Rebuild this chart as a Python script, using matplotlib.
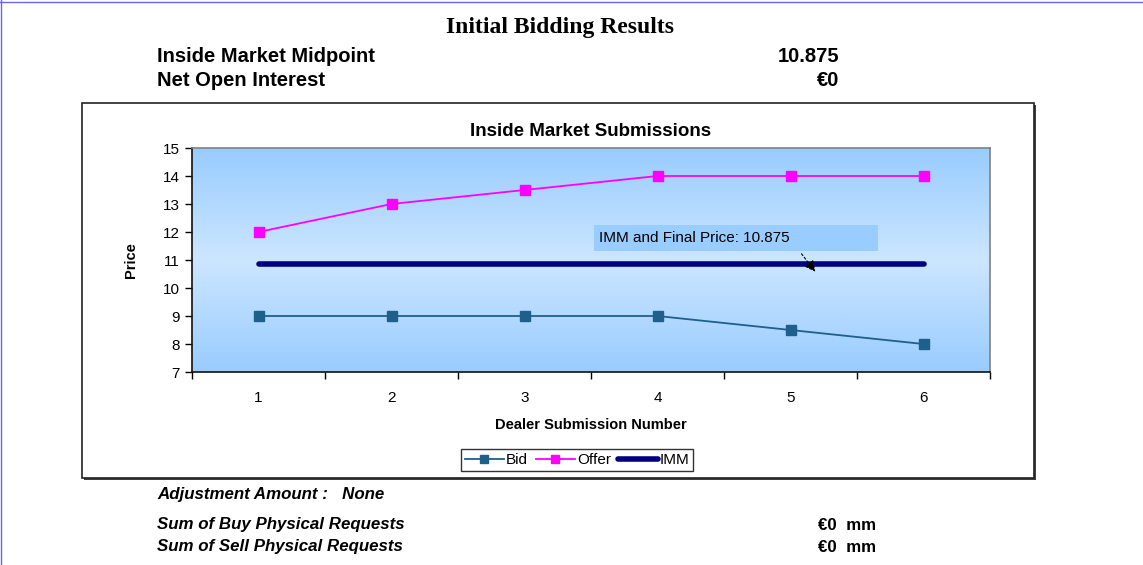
import numpy as np
import matplotlib
matplotlib.use("Agg")
import matplotlib.pyplot as plt
from matplotlib.colors import LinearSegmentedColormap
from matplotlib.patches import Rectangle

# ---- data ----
submissions = [1, 2, 3, 4, 5, 6]
bid = [9, 9, 9, 9, 8.5, 8]
offer = [12, 13, 13.5, 14, 14, 14]
imm = [10.875, 10.875, 10.875, 10.875, 10.875, 10.875]
y_ticks = [7, 8, 9, 10, 11, 12, 13, 14, 15]
midpoint_label = "10.875"
open_interest_label = "€0"

W, H = 1143, 565
fig = plt.figure(figsize=(W / 100, H / 100), dpi=100)
plt.rcParams['font.family'] = ['Liberation Sans', 'DejaVu Sans']

def fx(px):
    return px / W

def fy(py):
    return 1 - py / H

# page border lines (top, left)
fig.add_artist(plt.Line2D([fx(1), fx(1)], [0, 1], color="#6666EE", lw=1))
fig.add_artist(plt.Line2D([0, 1], [fy(1.5), fy(1.5)], color="#6666EE", lw=1))

# header
fig.text(fx(560), fy(27), "Initial Bidding Results", family="Liberation Serif",
         weight="bold", fontsize=17, ha="center", va="center")
fig.text(fx(157), fy(57), "Inside Market Midpoint", weight="bold", fontsize=14.5,
         ha="left", va="center")
fig.text(fx(839), fy(57), midpoint_label, weight="bold", fontsize=14.5,
         ha="right", va="center")
fig.text(fx(157), fy(80), "Net Open Interest", weight="bold", fontsize=14.5,
         ha="left", va="center")
fig.text(fx(839), fy(80), open_interest_label, weight="bold", fontsize=14.5,
         ha="right", va="center")

# chart box with shadow
fig.add_artist(Rectangle((fx(84), fy(480)), fx(1036) - fx(84), fy(105) - fy(480),
                         transform=fig.transFigure, facecolor="#404040",
                         edgecolor="none", zorder=0))
fig.add_artist(Rectangle((fx(82), fy(478)), fx(1034) - fx(82), fy(103) - fy(478),
                         transform=fig.transFigure, facecolor="white",
                         edgecolor="#222222", lw=1.2, zorder=0.5))

# plot area
ax = fig.add_axes([fx(192), fy(372), fx(990) - fx(192), fy(148) - fy(372)])
ax.set_zorder(2)
cmap = LinearSegmentedColormap.from_list(
    "bg", ["#99CCFF", "#CCE6FF", "#99CCFF"])
grad = np.linspace(0, 1, 256).reshape(-1, 1)
ax.imshow(grad, cmap=cmap, aspect="auto", extent=[0.5, 6.5, 7, 15],
          origin="upper", zorder=0)

ax.plot(submissions, imm, color="#000080", lw=4, solid_capstyle="round",
        label="IMM", zorder=3)
ax.plot(submissions, bid, color="#1F5F8B", lw=1.3, marker="s", ms=7,
        label="Bid", zorder=4)
ax.plot(submissions, offer, color="#FF00FF", lw=1.3, marker="s", ms=7,
        label="Offer", zorder=4)

ax.set_xlim(0.5, 6.5)
ax.set_ylim(7, 15)
ax.set_yticks(y_ticks)
ax.set_xticks(submissions)
ax.set_xticks(np.arange(0.5, 7.0, 1.0), minor=True)
ax.tick_params(axis="x", which="major", length=0, pad=14, labelsize=11)
ax.tick_params(axis="x", which="minor", length=5, direction="out", width=1)
ax.tick_params(axis="y", length=5, direction="out", width=1, labelsize=11, pad=4)
for s in ["top", "right"]:
    ax.spines[s].set_color("#808080")
    ax.spines[s].set_linewidth(1.2)
for s in ["left", "bottom"]:
    ax.spines[s].set_color("#111111")
    ax.spines[s].set_linewidth(1.2)

ax.set_xlabel("Dealer Submission Number", weight="bold", fontsize=10.5, labelpad=9)
ax.set_ylabel("Price", weight="bold", fontsize=10.5, labelpad=18)
fig.text(fx(591), fy(131), "Inside Market Submissions", weight="bold",
         fontsize=13.5, ha="center", va="center")

# annotation
ax.annotate("", xy=(5.2, 10.5), xytext=(5.07, 11.3),
            arrowprops=dict(arrowstyle="-|>", color="black", lw=0.8,
                            linestyle=(0, (2, 2)), mutation_scale=16),
            zorder=5)
ax.add_patch(Rectangle((3.52, 11.32), 2.14, 0.93, facecolor="#99CCFF",
                       edgecolor="none", zorder=5))
ax.text(3.56, 11.79, "IMM and Final Price: 10.875", fontsize=11, ha="left",
        va="center", zorder=6)

# legend
h, l = ax.get_legend_handles_labels()
order = [1, 2, 0]
leg = fig.legend([h[i] for i in order], [l[i] for i in order],
                 loc="center", bbox_to_anchor=(fx(577), fy(460)), ncol=3,
                 fontsize=11, frameon=True, fancybox=False, edgecolor="black",
                 handlelength=2.6, handletextpad=0.1, columnspacing=0.5,
                 borderpad=0.25, markerscale=0.9)
leg.get_frame().set_linewidth(1)
leg.set_zorder(3)

# bottom text
fig.text(fx(157), fy(494), "Adjustment Amount :   None", weight="bold",
         style="italic", fontsize=12.2, ha="left", va="center")
fig.text(fx(157), fy(525), "Sum of Buy Physical Requests", weight="bold",
         style="italic", fontsize=12.2, ha="left", va="center")
fig.text(fx(157), fy(547), "Sum of Sell Physical Requests", weight="bold",
         style="italic", fontsize=12.2, ha="left", va="center")
fig.text(fx(818), fy(525), "€0  mm", weight="bold", fontsize=12.2,
         ha="left", va="center")
fig.text(fx(818), fy(547), "€0  mm", weight="bold", fontsize=12.2,
         ha="left", va="center")

fig.savefig("out.png", dpi=100)
